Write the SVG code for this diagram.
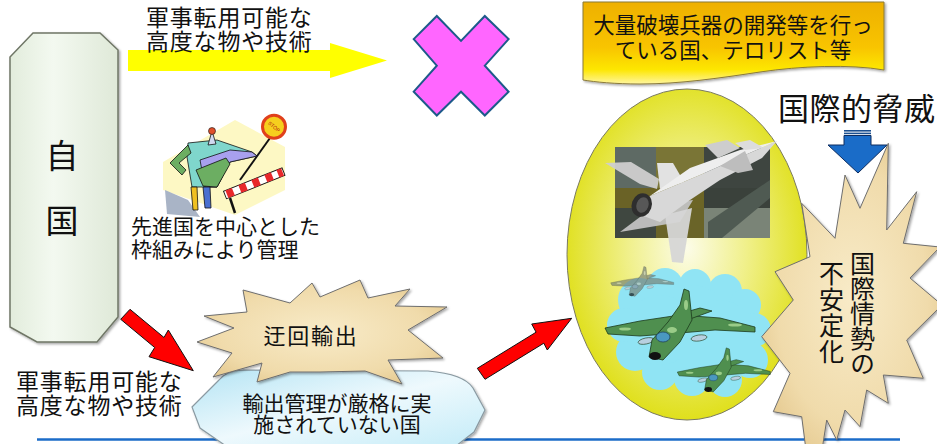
<svg xmlns="http://www.w3.org/2000/svg" xmlns:xlink="http://www.w3.org/1999/xlink" width="937" height="444" viewBox="0 0 937 444">
  <style>
    text { font-family: "Noto Sans CJK JP", "Noto Sans CJK SC", sans-serif; fill: #111; }
    .tight { font-family: "Liberation Sans", "Noto Sans CJK JP", "Noto Sans CJK SC", sans-serif; }
    .lbl23 { font-size: 23px; letter-spacing: 0.8px; }
    .lbl21 { font-size: 21px; }
    .mid { text-anchor: middle; }
    .vert { writing-mode: vertical-rl; font-size: 25px; }
    .red-arrow { fill: #ff0000; stroke: #111; stroke-width: 1; stroke-linejoin: miter; }
    .burst { fill: url(#papyrus); stroke: #6e6e6e; stroke-width: 1; stroke-linejoin: miter; filter: url(#softShadow); }
    .camo { fill: #4f8f4f; stroke: #1c3a1c; stroke-width: 0.8; }
    .patch { fill: #9acc88; }
    .ink { stroke: #111; stroke-width: 0.8; }
  </style>
  <defs>
    <linearGradient id="panelFill" x1="0" y1="0" x2="1" y2="0">
      <stop offset="0" stop-color="#e2ecdc"/>
      <stop offset="0.4" stop-color="#f3f9f0"/>
      <stop offset="1" stop-color="#dfe9d8"/>
    </linearGradient>
    <linearGradient id="bannerFill" x1="0" y1="0" x2="0" y2="1">
      <stop offset="0" stop-color="#eeb000"/>
      <stop offset="0.55" stop-color="#f8c400"/>
      <stop offset="0.82" stop-color="#fde600"/>
      <stop offset="1" stop-color="#fff6a0"/>
    </linearGradient>
    <radialGradient id="eggFill" cx="0.5" cy="0.48" r="0.55">
      <stop offset="0" stop-color="#fcfce8"/>
      <stop offset="0.45" stop-color="#f0f08a"/>
      <stop offset="1" stop-color="#dede10"/>
    </radialGradient>
    <radialGradient id="papyrus" cx="0.5" cy="0.5" r="0.6">
      <stop offset="0" stop-color="#f8ebc8"/>
      <stop offset="0.7" stop-color="#f0dbab"/>
      <stop offset="1" stop-color="#e4c88e"/>
    </radialGradient>
    <linearGradient id="iceFill" x1="0" y1="0" x2="1" y2="1">
      <stop offset="0" stop-color="#b4e4f4"/>
      <stop offset="0.5" stop-color="#eef9fd"/>
      <stop offset="1" stop-color="#c4ecf8"/>
    </linearGradient>
    <filter id="softShadow" x="-10%" y="-10%" width="125%" height="125%">
      <feDropShadow dx="1.5" dy="1.5" stdDeviation="1" flood-color="#000" flood-opacity="0.35"/>
    </filter>
    <filter id="faded">
      <feColorMatrix type="saturate" values="0.2"/>
    </filter>
    <!-- camouflaged attack jet, drawn at full size -->
    <g id="jet-green">
      <polygon class="camo" points="605,328 640,321 680,315 720,318 755,327 755,332 715,330 680,333 640,336 608,334"/>
      <polygon class="camo" points="672,316 700,308 712,311 690,319"/>
      <ellipse cx="646" cy="341" rx="8" ry="3" fill="#b8d0e0" stroke="#1c3a1c" stroke-width="0.6" transform="rotate(-12 646 341)"/>
      <ellipse cx="699" cy="338" rx="8" ry="3" fill="#b8d0e0" stroke="#1c3a1c" stroke-width="0.6" transform="rotate(-8 699 338)"/>
      <polygon class="camo" points="684,289 689,291 692,320 680,342 663,360 649,357 652,340 668,322 680,305"/>
      <ellipse class="patch" cx="625" cy="329" rx="6" ry="1.6"/>
      <ellipse class="patch" cx="735" cy="325" rx="7" ry="1.6"/>
      <ellipse class="patch" cx="686" cy="305" rx="2" ry="5"/>
      <ellipse class="patch" cx="672" cy="330" rx="5" ry="3"/>
      <ellipse cx="663" cy="337" rx="7" ry="5" fill="#4a98c0" stroke="#1a3a5a" stroke-width="0.7"/>
      <ellipse cx="655" cy="356" rx="6" ry="4" fill="#111"/>
    </g>
  </defs>

  <!-- bottom rule -->
  <line x1="37" y1="439.5" x2="900" y2="439.5" stroke="#1c6cc8" stroke-width="2.5"/>

  <g id="connectors">
    <polygon id="arrow-export" points="128,50 330,50 330,43 387,60.5 330,78 330,71 128,71" fill="#ffff00"/>
    <polygon id="arrow-detour" class="red-arrow" points="130,309.3 164,337.5 168.3,330 193.3,370.7 149,356.7 154.7,347.5 120.7,319.3"/>
    <polygon id="arrow-onward" class="red-arrow" points="477.3,368.3 536.1,332.2 531.7,324 571.7,318.3 547.3,350 543.8,343.2 485,379.3"/>
    <g id="arrow-threat">
      <rect x="844" y="130" width="27" height="1.6" fill="#1a4f90"/>
      <rect x="844" y="132.6" width="27" height="1.6" fill="#1a4f90"/>
      <polygon points="844,135.5 871,135.5 871,145 887,145 858,173 828,145 844,145" fill="#1a6cc8" stroke="#0c2c60" stroke-width="1"/>
    </g>
  </g>

  <!-- labels on the upper arrow -->
  <g id="label-top">
    <text class="lbl23 tight" x="146" y="26">軍事転用可能な</text>
    <text class="lbl23 tight" x="146" y="50">高度な物や技術</text>
  </g>

  <g id="blocked">
    <polygon points="413.7,39.1 436.8,16 461,40.9 484.8,16 508.6,39.1 484.8,65.7 508.6,91.7 484.8,115.5 461,91.7 436.8,115.5 413.7,91.7 436.8,65.7" fill="#ff66ff" stroke="#1d5a8a" stroke-width="2" stroke-linejoin="miter"/>
  </g>

  <g id="node-wmd">
    <path d="M583,2 H884 V70 C850,64 800,66 760,72 C720,78 680,84 640,84 C615,84 595,82 583,80 Z" fill="url(#bannerFill)" stroke="#8a7a3a" stroke-width="1" filter="url(#softShadow)"/>
    <text class="mid tight" x="733" y="33" font-size="21.5">大量破壊兵器の開発等を行っ</text>
    <text class="mid tight" x="733" y="58" font-size="21.5">ている国、テロリスト等</text>
  </g>

  <g id="node-threat-label">
    <text x="778" y="120" font-size="31" letter-spacing="0.5">国際的脅威</text>
  </g>

  <g id="node-weapons">
    <ellipse cx="687" cy="254.5" rx="120" ry="165.5" fill="url(#eggFill)" stroke="#7a7a60" stroke-width="1"/>
    <!-- fighter over camouflage backdrop -->
    <g id="fighter">
      <rect x="615" y="147" width="41" height="41" fill="#5e6a64"/>
      <rect x="656" y="147" width="48" height="41" fill="#7a7536"/>
      <rect x="704" y="147" width="66" height="41" fill="#3e4540"/>
      <rect x="615" y="188" width="41" height="20" fill="#6a6226"/>
      <rect x="656" y="188" width="48" height="20" fill="#6c6526"/>
      <rect x="704" y="188" width="66" height="20" fill="#3a413b"/>
      <rect x="615" y="208" width="41" height="30" fill="#3f4740"/>
      <rect x="656" y="208" width="48" height="30" fill="#6a6428"/>
      <rect x="704" y="208" width="66" height="30" fill="#7a8477"/>
      <polygon points="708,222 770,180 770,198 722,238 708,238" fill="#4f5a52"/>
      <polygon points="605,163 631,162 659,179 657,189 640,184" fill="#cfcfcf" opacity="0.95"/>
      <polygon points="657,163 673,163 684,182 660,189" fill="#e2e2e2"/>
      <polygon points="620,232 656,205 693,200 680,222" fill="#c2c2c2" opacity="0.95"/>
      <polygon points="665,215 692,208 683,263 672,262" fill="#d6d6d6" opacity="0.95"/>
      <polygon points="635,213 650,196 700,175 745,155 777,141 762,158 720,180 690,200 660,222" fill="#d8d8d8"/>
      <polygon points="650,196 700,175 745,155 777,141 740,150 690,168" fill="#eeeeee"/>
      <polygon points="705,145 727,140 740,148 718,158" fill="#cdcdcd"/>
      <polygon points="735,143 750,140 764,148 745,150" fill="#dcdcdc"/>
      <polygon points="720,166 745,151 753,170 738,173" fill="#bdbdbd"/>
      <ellipse cx="641.7" cy="205" rx="10" ry="12" fill="#2e2e2e" transform="rotate(20 641.7 205)"/>
      <ellipse cx="642.5" cy="205" rx="6" ry="8" fill="#575757" transform="rotate(20 642.5 205)"/>
    </g>
    <!-- sky with a flight of attack jets -->
    <g id="sky" fill="#90e4f4">
      <circle cx="640" cy="300" r="22"/>
      <circle cx="665" cy="286" r="18"/>
      <circle cx="695" cy="285" r="16"/>
      <circle cx="725" cy="291" r="17"/>
      <circle cx="745" cy="305" r="16"/>
      <circle cx="754" cy="330" r="17"/>
      <circle cx="750" cy="360" r="18"/>
      <circle cx="725" cy="380" r="17"/>
      <circle cx="692" cy="378" r="18"/>
      <circle cx="660" cy="372" r="18"/>
      <circle cx="635" cy="352" r="19"/>
      <circle cx="624" cy="325" r="17"/>
      <circle cx="690" cy="330" r="45"/>
      <circle cx="660" cy="330" r="35"/>
      <circle cx="720" cy="335" r="35"/>
    </g>
    <use xlink:href="#jet-green" transform="translate(356.6,145.1) scale(0.42)" filter="url(#faded)" opacity="0.7"/>
    <use xlink:href="#jet-green"/>
    <use xlink:href="#jet-green" transform="translate(302.2,168.7) scale(0.62)"/>
  </g>

  <g id="node-instability">
    <polygon class="burst" points="888.3,143.3 886.7,230 916.7,191.7 903.3,243.3 940,247 910,278 942,305 906.7,340 923.3,378.3 883.3,375 888.3,403.3 866.7,390 860,426.7 845,410 836.7,440 826.7,420 822,450 806,450 801.7,416.7 773.3,411.7 790,373.3 761.7,336.7 793.3,300 775,271.7 810,256.7 801.7,203.3 835,238.3 845,175 860,208.3"/>
    <text class="vert" x="862.5" y="251">国際情勢の</text>
    <text class="vert" x="831.5" y="261" letter-spacing="1">不安定化</text>
  </g>

  <g id="node-home">
    <polygon points="33,33 100,33 118,50 118,317 97,342 37,342 10,327 10,57" fill="url(#panelFill)" stroke="#6f7666" stroke-width="1.5" filter="url(#softShadow)"/>
    <text class="mid" x="62" y="168" font-size="33">自</text>
    <text class="mid" x="62" y="233" font-size="33">国</text>
  </g>

  <g id="node-regime">
    <!-- checkpoint figure with stop sign and barrier -->
    <polygon points="235,120 285,147 285,190 235,215 163,190 163,162" fill="#fdf8c4"/>
    <polygon points="165,190 188,200 200,217 167,214" fill="#a9b4c6"/>
    <line x1="270" y1="138" x2="240" y2="180" stroke="#111" stroke-width="2"/>
    <circle cx="274" cy="126.7" r="11.5" fill="#f6cf1e" stroke="#e0401c" stroke-width="3"/>
    <text x="274" y="128.5" font-size="5" class="mid" transform="rotate(40 274 126.7)" style="font-family:'Liberation Sans',sans-serif;fill:#b01010">STOP</text>
    <polygon class="ink" points="188,143 217,140 252,152 257,156 230,162 217,187 192,187 187,157" fill="#7fd6cc"/>
    <polygon class="ink" points="200,160 230,150 252,152 257,156 230,162 217,187 205,187" fill="#a8a0ee"/>
    <polygon class="ink" points="196,170 226,158 230,164 217,187 203,186" fill="#6cae62"/>
    <polygon class="ink" points="188,145 170,163 182,175 186,170 179,163 191,153" fill="#6cae62"/>
    <polygon class="ink" points="191,187 197,187 198,210 193,210" fill="#f0c020"/>
    <polygon class="ink" points="203,187 210,187 211,208 205,208" fill="#4a70d0"/>
    <polygon class="ink" points="208,145 212,131 216,144" fill="#d0d8f0"/>
    <circle cx="212" cy="131" r="3.5" fill="#e0502a" stroke="#111" stroke-width="0.6"/>
    <line x1="230" y1="198" x2="235" y2="213" stroke="#111" stroke-width="2.5"/>
    <g transform="translate(225,195) rotate(-21.8)">
      <rect x="0" y="-4" width="63" height="8" fill="#fff" stroke="#111" stroke-width="0.9"/>
      <rect x="2" y="-4" width="7" height="8" fill="#e8282a"/>
      <rect x="16" y="-4" width="7" height="8" fill="#e8282a"/>
      <rect x="30" y="-4" width="7" height="8" fill="#e8282a"/>
      <rect x="44" y="-4" width="7" height="8" fill="#e8282a"/>
      <rect x="57" y="-4" width="5" height="8" fill="#e8282a"/>
    </g>
    <text class="lbl21 tight" x="131" y="233.5">先進国を中心とした</text>
    <text class="lbl21 tight" x="131" y="256.5">枠組みにより管理</text>
  </g>

  <g id="label-bottom">
    <text class="lbl23 tight" x="16" y="389.5">軍事転用可能な</text>
    <text class="lbl23 tight" x="16" y="413.5">高度な物や技術</text>
  </g>

  <g id="node-lax">
    <path d="M192,407 L219,380 Q226,371 242,370 L428,371 Q464,374 473,388 L485,410 L474,432 L456,446 L226,446 L200,428 Z" fill="url(#iceFill)" stroke="#8a9aa2" stroke-width="1.2" filter="url(#softShadow)"/>
    <text class="mid lbl21 tight" x="337" y="410.5">輸出管理が厳格に実</text>
    <text class="mid lbl21 tight" x="337" y="431.5">施されていない国</text>
  </g>

  <g id="node-detour">
    <polygon class="burst" points="243,290 290,303 312,283 320,297 360,280 368,298 410,289 395,306 447,307 408,330 443,358 388,360 402,384 365,371 320,372 290,372 257,382 262,363 213,377 232,353 197,342 234,328 204,316 247,312"/>
    <text class="mid" x="311" y="343.5" font-size="22" letter-spacing="1.8">迂回輸出</text>
  </g>
</svg>
